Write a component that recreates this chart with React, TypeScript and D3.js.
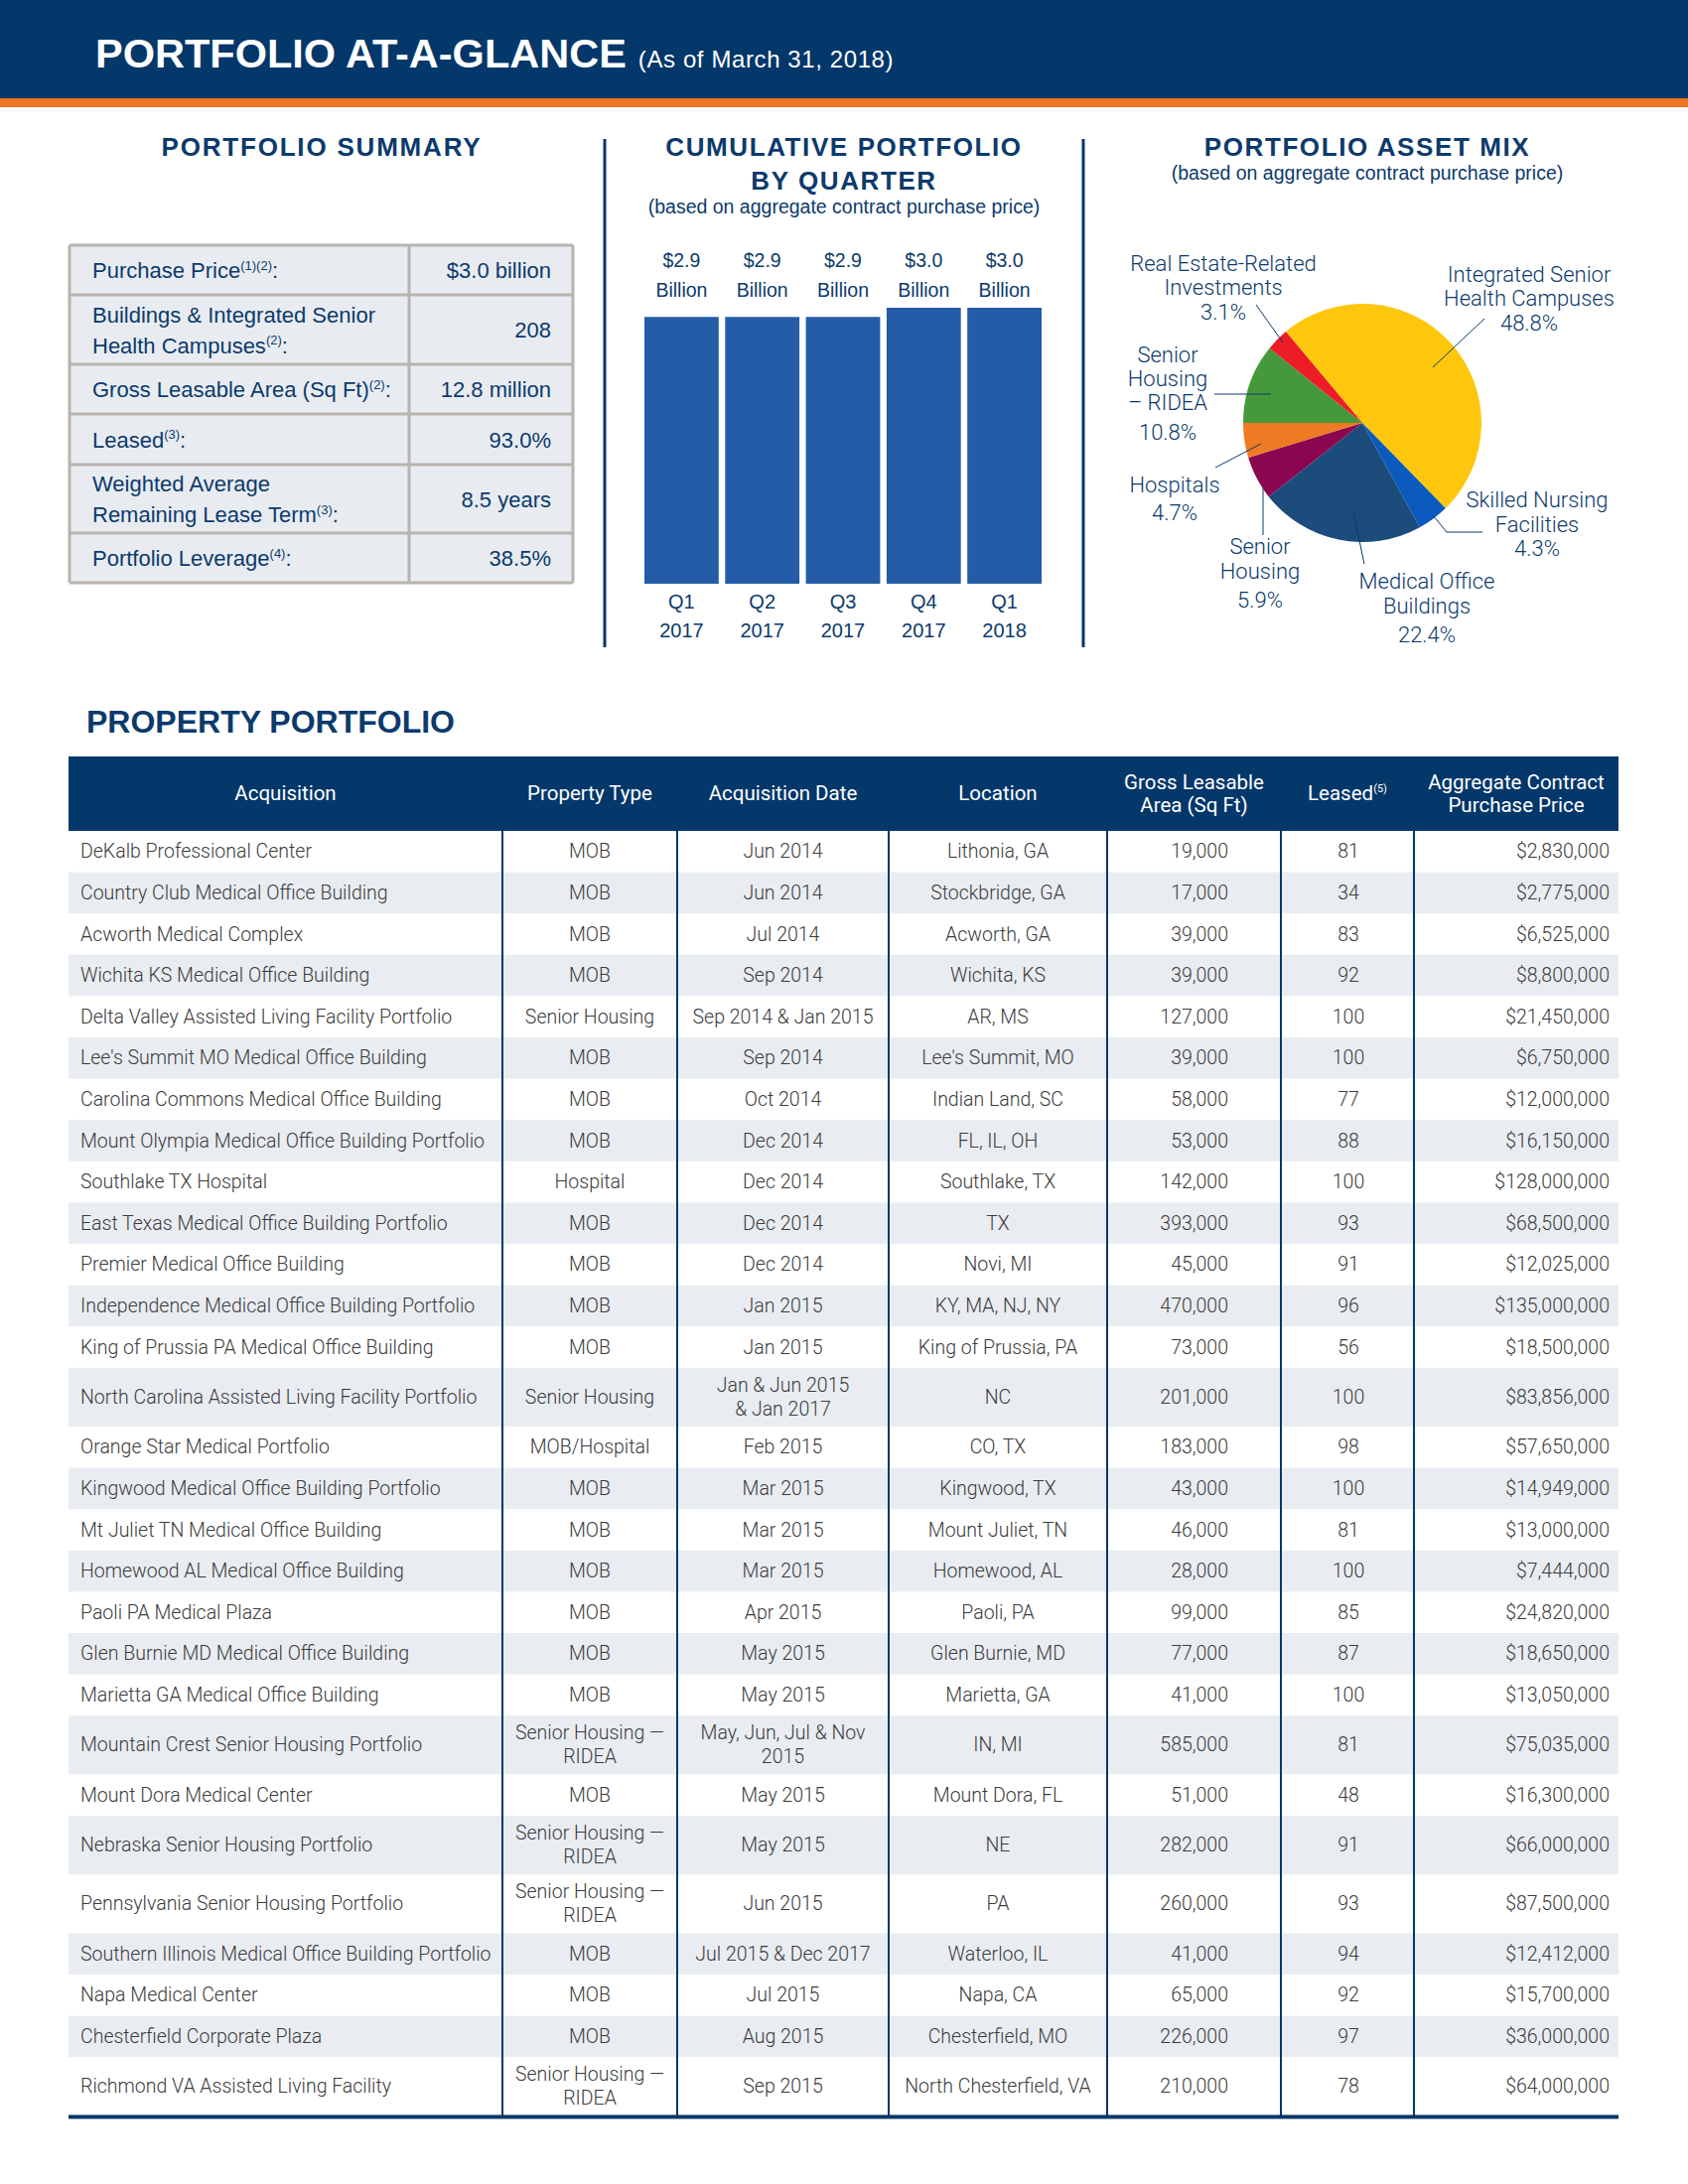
import React from "react";
import * as d3 from "d3";

// ---------- DATA ----------
const summaryLabels: string[][] = [
  ["Purchase Price|(1)(2)|:"],
  ["Buildings & Integrated Senior", "Health Campuses|(2)|:"],
  ["Gross Leasable Area (Sq Ft)|(2)|:"],
  ["Leased|(3)|:"],
  ["Weighted Average", "Remaining Lease Term|(3)|:"],
  ["Portfolio Leverage|(4)|:"],
];
const summaryValues = ["$3.0 billion", "208", "12.8 million", "93.0%", "8.5 years", "38.5%"];

const quarterNames = ["Q1", "Q2", "Q3", "Q4", "Q1"];
const quarterYears = ["2017", "2017", "2017", "2017", "2018"];
const cumulativeBillions = [2.9, 2.9, 2.9, 3.0, 3.0];

const assetCategories = [
  "Integrated Senior Health Campuses",
  "Skilled Nursing Facilities",
  "Medical Office Buildings",
  "Senior Housing",
  "Hospitals",
  "Senior Housing – RIDEA",
  "Real Estate-Related Investments",
];
const assetShares = [48.8, 4.3, 22.4, 5.9, 4.7, 10.8, 3.1];
const assetColors = ["#fec70e", "#0a5bbd", "#1b4c7c", "#8a0650", "#ee7a24", "#45993b", "#ec1d26"];

const tableHeaders = [
  ["Acquisition"],
  ["Property Type"],
  ["Acquisition Date"],
  ["Location"],
  ["Gross Leasable", "Area (Sq Ft)"],
  ["Leased|(5)|"],
  ["Aggregate Contract", "Purchase Price"],
];
const acquisitions = [
  "DeKalb Professional Center",
  "Country Club Medical Office Building",
  "Acworth Medical Complex",
  "Wichita KS Medical Office Building",
  "Delta Valley Assisted Living Facility Portfolio",
  "Lee's Summit MO Medical Office Building",
  "Carolina Commons Medical Office Building",
  "Mount Olympia Medical Office Building Portfolio",
  "Southlake TX Hospital",
  "East Texas Medical Office Building Portfolio",
  "Premier Medical Office Building",
  "Independence Medical Office Building Portfolio",
  "King of Prussia PA Medical Office Building",
  "North Carolina Assisted Living Facility Portfolio",
  "Orange Star Medical Portfolio",
  "Kingwood Medical Office Building Portfolio",
  "Mt Juliet TN Medical Office Building",
  "Homewood AL Medical Office Building",
  "Paoli PA Medical Plaza",
  "Glen Burnie MD Medical Office Building",
  "Marietta GA Medical Office Building",
  "Mountain Crest Senior Housing Portfolio",
  "Mount Dora Medical Center",
  "Nebraska Senior Housing Portfolio",
  "Pennsylvania Senior Housing Portfolio",
  "Southern Illinois Medical Office Building Portfolio",
  "Napa Medical Center",
  "Chesterfield Corporate Plaza",
  "Richmond VA Assisted Living Facility",
];
const propertyTypes = [
  "MOB", "MOB", "MOB", "MOB", "Senior Housing", "MOB", "MOB", "MOB", "Hospital", "MOB",
  "MOB", "MOB", "MOB", "Senior Housing", "MOB/Hospital", "MOB", "MOB", "MOB", "MOB", "MOB",
  "MOB", "Senior Housing —\nRIDEA", "MOB", "Senior Housing —\nRIDEA", "Senior Housing —\nRIDEA",
  "MOB", "MOB", "MOB", "Senior Housing —\nRIDEA",
];
const acquisitionDates = [
  "Jun 2014", "Jun 2014", "Jul 2014", "Sep 2014", "Sep 2014 & Jan 2015", "Sep 2014", "Oct 2014",
  "Dec 2014", "Dec 2014", "Dec 2014", "Dec 2014", "Jan 2015", "Jan 2015",
  "Jan & Jun 2015\n& Jan 2017", "Feb 2015", "Mar 2015", "Mar 2015", "Mar 2015", "Apr 2015",
  "May 2015", "May 2015", "May, Jun, Jul & Nov\n2015", "May 2015", "May 2015", "Jun 2015",
  "Jul 2015 & Dec 2017", "Jul 2015", "Aug 2015", "Sep 2015",
];
const locations = [
  "Lithonia, GA", "Stockbridge, GA", "Acworth, GA", "Wichita, KS", "AR, MS", "Lee's Summit, MO",
  "Indian Land, SC", "FL, IL, OH", "Southlake, TX", "TX", "Novi, MI", "KY, MA, NJ, NY",
  "King of Prussia, PA", "NC", "CO, TX", "Kingwood, TX", "Mount Juliet, TN", "Homewood, AL",
  "Paoli, PA", "Glen Burnie, MD", "Marietta, GA", "IN, MI", "Mount Dora, FL", "NE", "PA",
  "Waterloo, IL", "Napa, CA", "Chesterfield, MO", "North Chesterfield, VA",
];
const glaSqFt = [
  19000, 17000, 39000, 39000, 127000, 39000, 58000, 53000, 142000, 393000, 45000, 470000, 73000,
  201000, 183000, 43000, 46000, 28000, 99000, 77000, 41000, 585000, 51000, 282000, 260000, 41000,
  65000, 226000, 210000,
];
const leasedPct = [
  81, 34, 83, 92, 100, 100, 77, 88, 100, 93, 91, 96, 56, 100, 98, 100, 81, 100, 85, 87, 100, 81, 48,
  91, 93, 94, 92, 97, 78,
];
const purchasePrices = [
  2830000, 2775000, 6525000, 8800000, 21450000, 6750000, 12000000, 16150000, 128000000, 68500000,
  12025000, 135000000, 18500000, 83856000, 57650000, 14949000, 13000000, 7444000, 24820000,
  18650000, 13050000, 75035000, 16300000, 66000000, 87500000, 12412000, 15700000, 36000000,
  64000000,
];

// ---------- STYLE ----------
const NAVY = "#04376a";
const TITLE = "#0c3a6c";
const ORANGE = "#ee7623";
const BAR = "#245ca8";
const STRIPE = "#e9edf2";
const BODY = "#3b3b3b";
const ARIAL = "'Liberation Sans', Arial, Helvetica, sans-serif";
const LIGHT = "Roboto, 'Liberation Sans', Arial, sans-serif";

// text with "|sup|" markers
function RichText({ s, x, y, size, supSize, anchor, fill, family, weight }: any) {
  const parts = s.split("|");
  const out: any[] = [];
  let raised = false;
  parts.forEach((p: string, i: number) => {
    if (p === "") { return; }
    const isSup = i % 2 === 1;
    let dy = 0;
    if (isSup && !raised) { dy = -size * 0.38; raised = true; }
    else if (!isSup && raised) { dy = size * 0.38; raised = false; }
    out.push(
      <tspan key={i} dy={dy} fontSize={isSup ? supSize : size}>{p}</tspan>
    );
  });
  return (
    <text x={x} y={y} fontSize={size} textAnchor={anchor} fill={fill} fontFamily={family} fontWeight={weight}>
      {out}
    </text>
  );
}

export default function App() {
  // ---- bar chart scales ----
  const xBand = d3.scaleBand<number>().domain(d3.range(cumulativeBillions.length)).range([649, 1049]).paddingInner(0.08);
  const yBar = d3.scaleLinear().domain([0, 3.0]).range([588, 310]);

  // ---- pie ----
  const startDeg = -39.96;
  const pie = d3.pie<number>().sort(null).value((d) => d)
    .startAngle((startDeg * Math.PI) / 180)
    .endAngle((startDeg * Math.PI) / 180 + 2 * Math.PI);
  const arcs = pie(assetShares);
  const arcGen = d3.arc<d3.PieArcDatum<number>>().innerRadius(0).outerRadius(120);
  const pieCx = 1372, pieCy = 426;

  const pieLabels = [
    { lines: ["Integrated Senior", "Health Campuses", "48.8%"], x: 1540, ys: [276, 300, 325], leader: [[1495, 321], [1443, 370]] },
    { lines: ["Skilled Nursing", "Facilities", "4.3%"], x: 1548, ys: [503, 528, 552], leader: [[1493, 536], [1457, 536], [1443, 519]] },
    { lines: ["Medical Office", "Buildings", "22.4%"], x: 1437, ys: [585, 610, 639], leader: [[1374, 568], [1363, 516]] },
    { lines: ["Senior", "Housing", "5.9%"], x: 1269, ys: [550, 575, 604], leader: [[1272, 539], [1272, 492]] },
    { lines: ["Hospitals", "4.7%"], x: 1183, ys: [488, 516], leader: [[1224, 471], [1270, 447]] },
    { lines: ["Senior", "Housing", "– RIDEA", "10.8%"], x: 1176, ys: [357, 381, 405, 435], leader: [[1223, 397], [1280, 397]] },
    { lines: ["Real Estate-Related", "Investments", "3.1%"], x: 1232, ys: [265, 289, 314], leader: [[1265, 307], [1292, 345]] },
  ];

  // ---- summary table ----
  const sumX0 = 70, sumX1 = 577, sumSplit = 412;
  const sumRowH = [50, 70, 50, 51, 69, 50];
  const sumY = [247];
  sumRowH.forEach((h, i) => sumY.push(sumY[i] + h));

  // ---- property table ----
  const colEdges = [69, 506, 682, 895, 1115, 1290, 1424, 1630];
  const tableTop = 762, headBottom = 837;
  const rowLines = acquisitions.map((_, i) =>
    Math.max(propertyTypes[i].split("\n").length, acquisitionDates[i].split("\n").length)
  );
  const rowH = rowLines.map((n) => (n > 1 ? 59.2 : 41.6));
  const rowY: number[] = [];
  let acc = headBottom;
  rowH.forEach((h) => { rowY.push(acc); acc += h; });
  const tableBottom = acc;
  const fmtInt = d3.format(",");
  const fmtUsd = (v: number) => "$" + d3.format(",")(v);

  const cellText = (txt: string, x: number, cy: number, anchor: string, key: string) => {
    const lines = txt.split("\n");
    const lh = 24;
    return lines.map((ln, j) => (
      <text key={key + j} x={x} y={cy + (j - (lines.length - 1) / 2) * lh} dominantBaseline="central"
        textAnchor={anchor as any} fontSize={19.5} fontFamily={LIGHT} fontWeight={300} fill={BODY}>
        {ln}
      </text>
    ));
  };

  return (
    <svg width={1700} height={2200} viewBox="0 0 1700 2200"
      style={{ position: "absolute", left: 0, top: 0, background: "#fff" }}>
      <rect x={0} y={0} width={1700} height={2200} fill="#fff" />
      {/* header band */}
      <rect x={0} y={0} width={1700} height={99} fill={NAVY} />
      <rect x={0} y={99} width={1700} height={9} fill={ORANGE} />
      <text x={96} y={68} fill="#fff" fontFamily={ARIAL}>
        <tspan fontSize={41.5} fontWeight={700}>PORTFOLIO AT-A-GLANCE</tspan>
        <tspan fontSize={24} dx={12} letterSpacing={0.6}>(As of March 31, 2018)</tspan>
      </text>

      {/* section headings */}
      <text x={324} y={157} textAnchor="middle" fill={TITLE} fontFamily={ARIAL} fontWeight={700} fontSize={26} letterSpacing={1.8}>PORTFOLIO SUMMARY</text>
      <text x={850} y={157} textAnchor="middle" fill={TITLE} fontFamily={ARIAL} fontWeight={700} fontSize={26} letterSpacing={1.6}>CUMULATIVE PORTFOLIO</text>
      <text x={850} y={191} textAnchor="middle" fill={TITLE} fontFamily={ARIAL} fontWeight={700} fontSize={26} letterSpacing={1.6}>BY QUARTER</text>
      <text x={850} y={215} textAnchor="middle" fill={TITLE} fontFamily={ARIAL} fontSize={19.5}>(based on aggregate contract purchase price)</text>
      <text x={1377} y={157} textAnchor="middle" fill={TITLE} fontFamily={ARIAL} fontWeight={700} fontSize={26} letterSpacing={1.6}>PORTFOLIO ASSET MIX</text>
      <text x={1377} y={181} textAnchor="middle" fill={TITLE} fontFamily={ARIAL} fontSize={19.5}>(based on aggregate contract purchase price)</text>

      {/* separators */}
      <line x1={609} x2={609} y1={140} y2={652} stroke={NAVY} strokeWidth={3} />
      <line x1={1091} x2={1091} y1={140} y2={652} stroke={NAVY} strokeWidth={3} />

      {/* summary table */}
      <g>
        <rect x={sumX0} y={sumY[0]} width={sumX1 - sumX0} height={sumY[sumY.length - 1] - sumY[0]} fill="#e8ecf1" />
        {sumY.map((y, i) => (
          <line key={"sl" + i} x1={sumX0} x2={sumX1} y1={y} y2={y} stroke="#b7b3af" strokeWidth={3} />
        ))}
        <line x1={sumX0} x2={sumX0} y1={sumY[0]} y2={sumY[sumY.length - 1]} stroke="#b7b3af" strokeWidth={3} />
        <line x1={sumX1} x2={sumX1} y1={sumY[0]} y2={sumY[sumY.length - 1]} stroke="#b7b3af" strokeWidth={3} />
        <line x1={sumSplit} x2={sumSplit} y1={sumY[0]} y2={sumY[sumY.length - 1]} stroke="#b7b3af" strokeWidth={3} />
        {summaryLabels.map((lines, i) => {
          const cy = (sumY[i] + sumY[i + 1]) / 2;
          return (
            <g key={"sr" + i}>
              {lines.map((ln, j) => (
                <RichText key={j} s={ln} x={93} y={cy + (j - (lines.length - 1) / 2) * 31 + 8}
                  size={22} supSize={13} anchor="start" fill={TITLE} family={ARIAL} weight={400} />
              ))}
              <text x={555} y={cy + 8} textAnchor="end" fontSize={22} fill={TITLE} fontFamily={ARIAL}>{summaryValues[i]}</text>
            </g>
          );
        })}
      </g>

      {/* bar chart */}
      <g>
        {cumulativeBillions.map((v, i) => {
          const x = xBand(i)!;
          const cx = x + xBand.bandwidth() / 2;
          return (
            <g key={"b" + i}>
              <rect x={x} y={yBar(v)} width={xBand.bandwidth()} height={yBar(0) - yBar(v)} fill={BAR} />
              <text x={cx} y={269} textAnchor="middle" fontSize={19.5} fill={TITLE} fontFamily={ARIAL}>{"$" + d3.format(".1f")(v)}</text>
              <text x={cx} y={299} textAnchor="middle" fontSize={19.5} fill={TITLE} fontFamily={ARIAL}>Billion</text>
              <text x={cx} y={613} textAnchor="middle" fontSize={20} fill={TITLE} fontFamily={ARIAL}>{quarterNames[i]}</text>
              <text x={cx} y={642} textAnchor="middle" fontSize={20} fill={TITLE} fontFamily={ARIAL}>{quarterYears[i]}</text>
            </g>
          );
        })}
      </g>

      {/* pie */}
      <g transform={`translate(${pieCx},${pieCy})`}>
        {arcs.map((a, i) => (
          <path key={"p" + i} d={arcGen(a) || ""} fill={assetColors[i]} />
        ))}
      </g>
      {pieLabels.map((lb, i) => (
        <g key={"pl" + i}>
          <polyline points={lb.leader.map((p) => p.join(",")).join(" ")} fill="none" stroke={TITLE} strokeWidth={1} />
          {lb.lines.map((ln, j) => (
            <text key={j} x={lb.x} y={lb.ys[j]} dominantBaseline="central" textAnchor="middle" fontSize={22}
              fontFamily={LIGHT} fontWeight={300} fill={TITLE}>{ln}</text>
          ))}
        </g>
      ))}

      {/* property portfolio */}
      <text x={87} y={738} fontSize={32} fontWeight={700} fill={TITLE} fontFamily={ARIAL}>PROPERTY PORTFOLIO</text>
      <rect x={colEdges[0]} y={tableTop} width={colEdges[7] - colEdges[0]} height={headBottom - tableTop} fill={NAVY} />
      {tableHeaders.map((lines, c) => {
        const cx = (colEdges[c] + colEdges[c + 1]) / 2;
        return lines.map((ln, j) => (
          <RichText key={"h" + c + j} s={ln} x={cx} y={799 + (j - (lines.length - 1) / 2) * 23 + 7}
            size={20.5} supSize={11} anchor="middle" fill="#fff" family={LIGHT} weight={400} />
        ));
      })}
      {acquisitions.map((name, i) => {
        const y = rowY[i];
        const cy = y + rowH[i] / 2;
        return (
          <g key={"r" + i}>
            {i % 2 === 1 && (
              <rect x={colEdges[0]} y={y} width={colEdges[7] - colEdges[0]} height={rowH[i]} fill={STRIPE} />
            )}
            {cellText(name, 81, cy, "start", "a" + i)}
            {cellText(propertyTypes[i], (colEdges[1] + colEdges[2]) / 2, cy, "middle", "t" + i)}
            {cellText(acquisitionDates[i], (colEdges[2] + colEdges[3]) / 2, cy, "middle", "d" + i)}
            {cellText(locations[i], (colEdges[3] + colEdges[4]) / 2, cy, "middle", "l" + i)}
            {cellText(fmtInt(glaSqFt[i]), 1237, cy, "end", "g" + i)}
            {cellText(String(leasedPct[i]), (colEdges[5] + colEdges[6]) / 2 + 1, cy, "middle", "p" + i)}
            {cellText(fmtUsd(purchasePrices[i]), 1621, cy, "end", "c" + i)}
          </g>
        );
      })}
      {colEdges.slice(1, 7).map((x, i) => (
        <line key={"cl" + i} x1={x} x2={x} y1={headBottom} y2={tableBottom} stroke={NAVY} strokeWidth={2} />
      ))}
      <rect x={colEdges[0]} y={tableBottom - 1} width={colEdges[7] - colEdges[0]} height={4} fill={NAVY} />
    </svg>
  );
}
